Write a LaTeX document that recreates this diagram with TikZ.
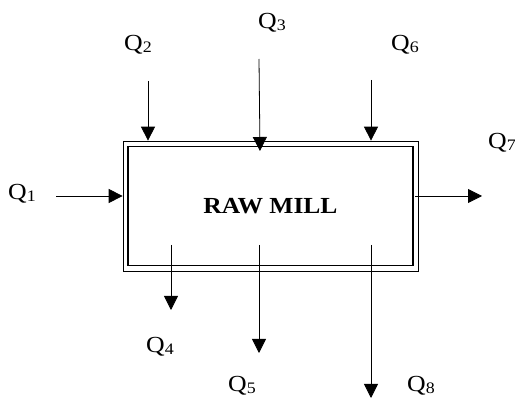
\documentclass[tikz,border=0pt]{standalone}
\usepackage{fontspec}
\setmainfont{Liberation Serif}
\usetikzlibrary{arrows.meta, positioning, calc}

\newcommand{\qname}[1]{\scalebox{1.12}[1]{Q\raisebox{-2pt}{\fontsize{16}{16}\selectfont #1}}}

\begin{document}
\begin{tikzpicture}[
      x=1pt, y=-1pt,
      millbox/.style={draw, line width=1.6pt, minimum width=285pt, minimum height=119pt,
        inner sep=0pt, font=\fontsize{23}{27}\selectfont\bfseries},
      framebox/.style={draw, line width=0.7pt, minimum width=295pt, minimum height=130pt, inner sep=0pt},
      flow/.style={-{Triangle[length=14pt, width=14pt]}, line width=0.8pt},
      qlabel/.style={anchor=base west, inner sep=0pt, font=\fontsize{23}{27}\selectfont}
    ]
    \useasboundingbox (0,0) rectangle (515,398);

    \node[millbox] (mill) at (270.5,206) {\scalebox{1.11}[1]{RAW MILL}};
    \node[framebox] (frame) at (mill) {};

    % free ends of the streams
    \coordinate (q1s) at (56,196);
    \coordinate (q2s) at (148,81);
    \coordinate (q3s) at (259,59);
    \coordinate (q3e) at (260,151);
    \coordinate (q6s) at (371,80);
    \coordinate (q7s) at (415,196);
    \coordinate (q7e) at (482,196);
    \coordinate (q4s) at (171,245);
    \coordinate (q4e) at (171,310);
    \coordinate (q5s) at (259,245);
    \coordinate (q5e) at (259,353);
    \coordinate (q8s) at (371,245);
    \coordinate (q8e) at (371,398);

    \draw[flow] (q1s) -- (q1s -| frame.west);
    \draw[flow] (q2s) -- (q2s |- frame.north);
    \draw[flow] (q3s) -- (q3e);
    \draw[flow] (q6s) -- (q6s |- frame.north);
    \draw[flow] (q7s) -- (q7e);
    \draw[flow] (q4s) -- (q4e);
    \draw[flow] (q5s) -- (q5e);
    \draw[flow] (q8s) -- (q8e);

    \node[qlabel] (lq1) at (8,200) {\qname{1}};
    \node[qlabel] (lq2) at (124,51) {\qname{2}};
    \node[qlabel] (lq3) at (258,29) {\qname{3}};
    \node[qlabel] (lq6) at (391,51) {\qname{6}};
    \node[qlabel] (lq7) at (488,149) {\qname{7}};
    \node[qlabel] (lq4) at (146,353) {\qname{4}};
    \node[qlabel] (lq5) at (228,392) {\qname{5}};
    \node[qlabel] (lq8) at (407,392) {\qname{8}};
  \end{tikzpicture}
\end{document}
